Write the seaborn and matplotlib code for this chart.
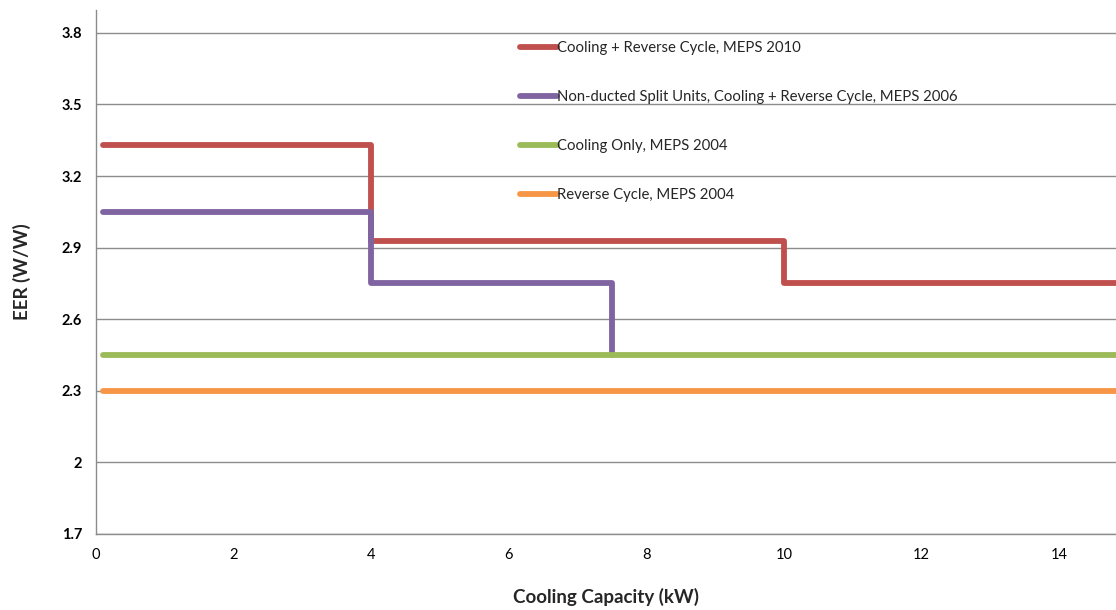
import matplotlib
matplotlib.use("Agg")
import matplotlib.pyplot as plt
import seaborn as sns
import pandas as pd

# Minimum EER (W/W) steps by cooling capacity (kW)
red_cap = [0.1, 4, 10, 15]
red_eer = [3.33, 2.93, 2.75, 2.75]
purple_cap = [0.1, 4, 7.5]
purple_eer = [3.05, 2.75, 2.45]
green_cap = [0.1, 15]
green_eer = [2.45, 2.45]
orange_cap = [0.1, 15]
orange_eer = [2.30, 2.30]

series_names = [
    "Cooling + Reverse Cycle, MEPS 2010",
    "Non-ducted Split Units, Cooling + Reverse Cycle, MEPS 2006",
    "Cooling Only, MEPS 2004",
    "Reverse Cycle, MEPS 2004",
]
series_colors = ["#C0504D", "#8064A2", "#9BBB59", "#F79646"]

y_ticks = [1.7, 2.0, 2.3, 2.6, 2.9, 3.2, 3.5, 3.8]
y_tick_labels = ["1.7", "2", "2.3", "2.6", "2.9", "3.2", "3.5", "3.8"]
x_ticks = [0, 2, 4, 6, 8, 10, 12, 14]

sns.set_theme(style="white")
plt.rcParams["font.family"] = ["Lato", "DejaVu Sans"]

fig = plt.figure(figsize=(11.16, 6.10), dpi=100)
ax = fig.add_axes([0.086, 0.1246, 0.914, 0.859])

frames = []
for name, cap, eer in zip(series_names,
                          [red_cap, purple_cap, green_cap, orange_cap],
                          [red_eer, purple_eer, green_eer, orange_eer]):
    frames.append(pd.DataFrame({"capacity": cap, "eer": eer, "series": name}))
df = pd.concat(frames, ignore_index=True)

grid_color = "#8c8c8c"
for yv in y_ticks:
    ax.axhline(yv, color=grid_color, lw=1.0, zorder=0)

sns.lineplot(data=df, x="capacity", y="eer", hue="series", hue_order=series_names,
             palette=series_colors, estimator=None, sort=False,
             drawstyle="steps-post", lw=4.2, ax=ax,
             solid_joinstyle="round", solid_capstyle="round")

ax.set_xlim(0, 14.83)
ax.set_ylim(1.7, 3.896)
ax.set_xticks(x_ticks)
ax.set_xticklabels([str(v) for v in x_ticks], fontsize=10.5)
ax.set_yticks(y_ticks)
ax.set_yticklabels(y_tick_labels, fontsize=10.5, fontweight="bold")

for s in ["top", "right"]:
    ax.spines[s].set_visible(False)
ax.spines["left"].set_color(grid_color)
ax.spines["bottom"].set_color(grid_color)
ax.spines["left"].set_linewidth(1.0)
ax.spines["bottom"].set_linewidth(1.0)
ax.tick_params(axis="both", which="both", length=4, width=1, color=grid_color,
               direction="out", colors="black", pad=6)
ax.tick_params(axis="both", color=grid_color)

ax.set_xlabel("Cooling Capacity (kW)", fontsize=13.5, fontweight="bold", labelpad=19)
ax.set_ylabel("EER (W/W)", fontsize=13.5, fontweight="bold", labelpad=22)

leg = ax.legend(loc="upper left", bbox_to_anchor=(0.41, 0.952), frameon=False,
                fontsize=10.7, handlelength=2.45, handletextpad=0.0,
                labelspacing=2.36, borderaxespad=0)
for line in leg.get_lines():
    line.set_linewidth(4.2)
    line.set_solid_capstyle("round")

fig.savefig("out.png", dpi=100)
